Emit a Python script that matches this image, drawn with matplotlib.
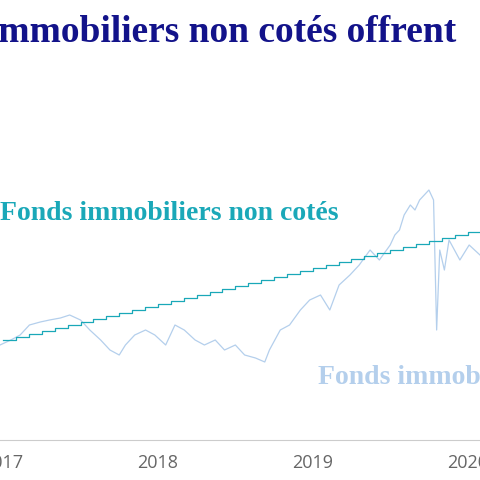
import matplotlib
matplotlib.use("Agg")
import matplotlib.pyplot as plt
import pandas as pd

# listed fund - decimal years and index values
fonds_x = [2016.98, 2017.05, 2017.11, 2017.17, 2017.24, 2017.30, 2017.37, 2017.43, 2017.50, 2017.56,
           2017.63, 2017.69, 2017.75, 2017.79, 2017.85, 2017.92, 2017.98, 2018.05, 2018.11, 2018.17,
           2018.24, 2018.30, 2018.37, 2018.43, 2018.50, 2018.56, 2018.63, 2018.69, 2018.72, 2018.79,
           2018.85, 2018.92, 2018.98, 2019.05, 2019.11, 2019.17, 2019.24, 2019.30, 2019.37, 2019.43,
           2019.50, 2019.53, 2019.56, 2019.59, 2019.63, 2019.66, 2019.69, 2019.72, 2019.75, 2019.78,
           2019.80, 2019.82, 2019.85, 2019.88, 2019.95, 2020.01, 2020.08]
fonds_v = [95, 100, 105, 115, 118, 120, 122, 125, 120, 110,
           100, 90, 85, 95, 105, 110, 105, 95, 115, 110,
           100, 95, 100, 90, 95, 85, 82, 78, 90, 110,
           115, 130, 140, 145, 130, 155, 165, 175, 190, 180,
           195, 205, 210, 225, 235, 230, 240, 245, 250, 240,
           110, 190, 170, 200, 180, 195, 185]

nc_dates = pd.date_range("2017-01-01", periods=39, freq="MS")
nc_v = [100, 103, 106, 109, 112, 115, 118, 121, 124, 127, 130, 133, 136, 139, 142, 145, 148, 151,
        154, 157, 160, 163, 166, 169, 172, 175, 178, 181, 184, 187, 190, 193, 196, 199, 202, 205,
        208, 210, 212]
nc_x = [d.year + (d.month - 1) / 12 for d in nc_dates]

years = [2017, 2018, 2019, 2020]

fig = plt.figure(figsize=(4.8, 4.8), dpi=100)
ax = fig.add_axes([0, 40 / 480, 1, 440 / 480])
ax.plot(fonds_x, fonds_v, color="#b4cfec", lw=0.9)
ax.plot(nc_x, nc_v, color="#1aa8b8", lw=0.9, drawstyle="steps-post")
ax.set_xlim(2016.98, 2020.08)
ax.set_ylim(0, 440)
for s in ["top", "right", "left"]:
    ax.spines[s].set_visible(False)
ax.spines["bottom"].set_color("#cccccc")
ax.set_yticks([])
ax.set_xticks(years)
ax.set_xticklabels([str(y) for y in years], fontsize=13, color="#666666", family="Open Sans")
ax.tick_params(axis="x", length=0, pad=10)

fig.text(338 / 480, 1 - 213 / 480, "Fonds immobiliers non cotés", color="#1aa8b8",
         fontsize=20, fontweight="bold", family="Liberation Serif", ha="right", va="center")
fig.text(318 / 480, 1 - 378 / 480, "Fonds immobiliers cotés", color="#b4cfec",
         fontsize=20, fontweight="bold", family="Liberation Serif", ha="left", va="center")
fig.text(-12 / 480, 1 - 32 / 480, "immobiliers non cotés offrent", color="#13138a",
         fontsize=27, fontweight="bold", family="Liberation Serif", ha="left", va="center")

fig.savefig("out.png", dpi=100)
